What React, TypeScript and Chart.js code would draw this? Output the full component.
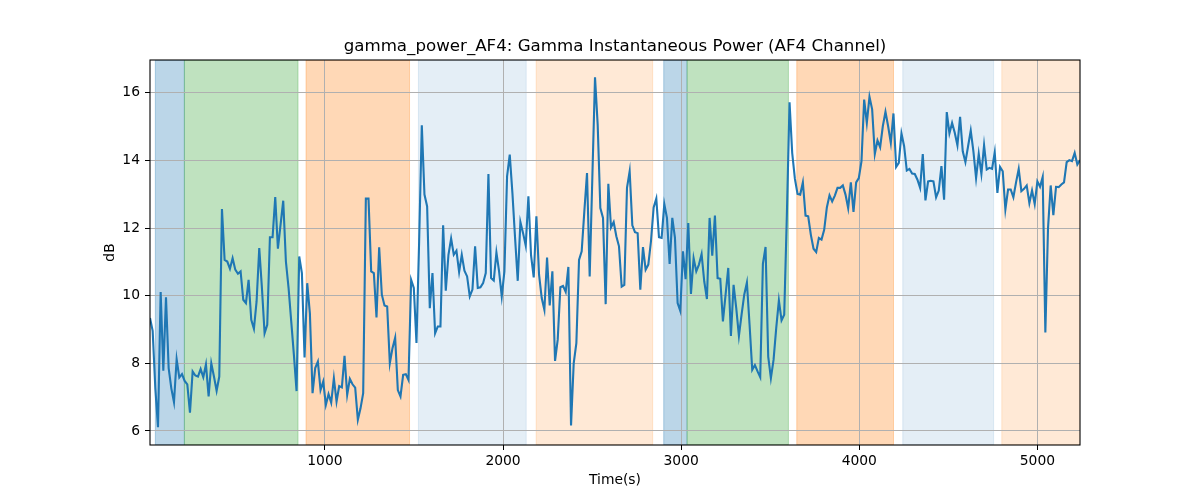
import React, { useEffect, useRef } from "react";
import { Chart, registerables } from "chart.js";

Chart.register(...registerables);

const TITLE = "gamma_power_AF4: Gamma Instantaneous Power (AF4 Channel)";
const X_LABEL = "Time(s)";
const Y_LABEL = "dB";

// sampling of the series (seconds)
const T_START = 18;
const T_STEP = 14.96;

const GAMMA_DB = [
  9.34, 8.96, 7.26, 6.11, 10.11, 7.78, 9.95, 7.86, 7.26, 6.85,
  8.12, 7.58, 7.68, 7.48, 7.38, 6.54, 7.76, 7.64, 7.61, 7.83,
  7.59, 7.97, 7.02, 8.0, 7.61, 7.19, 7.61, 12.56, 11.06, 11.01,
  10.8, 11.11, 10.77, 10.65, 10.72, 9.88, 9.78, 10.47, 9.29, 9.02,
  9.83, 11.41, 10.23, 8.89, 9.14, 11.73, 11.73, 12.92, 11.39, 12.1,
  12.81, 11.01, 10.23, 9.24, 8.25, 7.18, 11.16, 10.67, 8.17, 10.37,
  9.48, 7.12, 7.86, 8.05, 7.21, 7.46, 6.77, 7.09, 6.84, 7.56,
  6.87, 7.33, 7.29, 8.22, 7.07, 7.54, 7.38, 7.28, 6.33, 6.67,
  7.12, 12.87, 12.87, 10.72, 10.67, 9.36, 11.43,
  10.03, 9.71, 9.68, 8.0, 8.45, 8.76, 7.21, 7.02, 7.66, 7.68,
  7.51, 10.47, 10.23, 8.6, 11.61, 15.04, 12.99, 12.64, 9.63, 10.67,
  8.89, 9.09, 9.09, 12.08, 10.15, 11.21, 11.69, 11.21, 11.33, 10.7,
  11.21, 10.74, 10.57, 9.98, 10.18, 11.46, 10.23, 10.25, 10.37, 10.67,
  13.6, 10.52, 10.45, 11.28, 10.72, 9.98, 10.72, 13.53, 14.17, 13.04,
  11.71, 10.44, 12.18, 11.85, 11.48, 12.94, 11.19, 10.54, 12.35, 10.62,
  9.93, 9.58, 11.13, 9.71, 10.72, 8.07, 8.7, 10.25, 10.29, 10.11,
  10.85, 6.16, 8.0, 8.6, 11.06, 11.31, 12.5, 13.63, 10.57, 13.5,
  16.46, 15.06, 12.59, 12.3, 9.75, 13.31,
  12.02, 12.18, 11.76, 11.46, 10.27, 10.32, 13.19, 13.68, 12.08, 11.88,
  11.85, 10.18, 11.44, 10.77, 10.92, 11.61, 12.61, 12.87, 11.73, 11.71,
  12.71, 12.3, 10.94, 12.3, 11.71, 9.78, 9.55, 11.31, 10.49, 12.15,
  10.05, 11.11, 10.72, 10.92, 11.23, 10.42, 9.9, 12.3, 11.18, 12.37,
  10.52, 10.5, 9.24, 10.03, 10.82, 8.81, 10.32, 9.63, 8.81, 9.44,
  10.03, 10.39, 9.14, 7.81, 7.95, 7.76, 7.59, 10.94, 11.44, 8.2,
  7.56, 8.1, 9.04, 9.86, 9.27, 9.44, 12.4, 15.72, 14.22, 13.46,
  13.01, 12.99, 13.35, 12.37, 12.35, 11.8, 11.39, 11.29, 11.71, 11.66,
  11.95, 12.61, 12.97, 12.79, 12.96, 13.19,
  13.19, 13.26, 12.99, 12.59, 13.35, 12.48, 13.35, 13.48, 13.98, 15.8,
  15.11, 15.88, 15.51, 14.19, 14.59, 14.39, 15.01, 15.44, 15.01, 14.52,
  15.39, 13.81, 13.93, 14.8, 14.42, 13.7, 13.75, 13.61, 13.6, 13.43,
  13.19, 14.19, 12.82, 13.38, 13.4, 13.38, 12.91, 13.11, 13.83, 12.84,
  15.43, 14.8, 15.11, 14.82, 14.45, 15.29, 14.27, 13.95, 14.42, 14.88,
  14.27, 13.48, 14.19, 13.6, 14.45, 13.73, 13.78, 13.75, 14.24, 13.04,
  13.81, 13.68, 12.55, 13.14, 13.14, 12.91, 13.35, 13.75, 13.09, 13.16,
  13.26, 12.74, 13.11, 12.71, 13.38, 13.22, 13.51, 8.91, 12.0, 13.26,
  12.38, 13.22, 13.21, 13.29, 13.35, 13.95, 14.01, 13.98, 14.22, 13.88,
  14.01,
];

const X_TICKS = [1000, 2000, 3000, 4000, 5000];
const Y_TICKS = [6, 8, 10, 12, 14, 16];

// shaded epochs (seconds)
const SPAN_START = [48, 211, 894, 1525, 2186, 2902, 3033, 3649, 4244, 4800];
const SPAN_END = [211, 849, 1475, 2130, 2840, 3033, 3602, 4192, 4754, 5400];
const SPAN_KIND = ["blue", "green", "orange", "lightblue", "lightorange", "blue", "green", "orange", "lightblue", "lightorange"];

const SPAN_COLORS: Record<string, string> = {
  blue: "rgba(31,119,180,0.3)",
  green: "rgba(44,160,44,0.3)",
  orange: "rgba(255,127,14,0.3)",
  lightblue: "rgba(31,119,180,0.12)",
  lightorange: "rgba(255,127,14,0.17)",
};

const FONT = "'DejaVu Sans', 'Liberation Sans', sans-serif";

const spansPlugin = {
  id: "spans",
  beforeDraw(chart: any) {
    const { ctx, chartArea } = chart;
    const x = chart.scales.x;
    ctx.save();
    ctx.beginPath();
    ctx.rect(chartArea.left, chartArea.top, chartArea.right - chartArea.left, chartArea.bottom - chartArea.top);
    ctx.clip();
    for (let i = 0; i < SPAN_START.length; i++) {
      const x0 = x.getPixelForValue(SPAN_START[i]);
      const x1 = x.getPixelForValue(SPAN_END[i]);
      const c = SPAN_COLORS[SPAN_KIND[i]];
      ctx.fillStyle = c;
      ctx.fillRect(x0, chartArea.top, x1 - x0, chartArea.bottom - chartArea.top);
      ctx.strokeStyle = c;
      ctx.lineWidth = 1;
      ctx.strokeRect(x0, chartArea.top, x1 - x0, chartArea.bottom - chartArea.top);
    }
    ctx.restore();
  },
  afterDraw(chart: any) {
    const { ctx, chartArea } = chart;
    ctx.save();
    ctx.strokeStyle = "#000000";
    ctx.lineWidth = 1.1;
    ctx.strokeRect(chartArea.left, chartArea.top, chartArea.right - chartArea.left, chartArea.bottom - chartArea.top);
    ctx.restore();
  },
};

export default function App() {
  const canvasRef = useRef<HTMLCanvasElement | null>(null);

  useEffect(() => {
    document.body.style.margin = "0";
    const canvas = canvasRef.current;
    if (!canvas) return;
    const points = GAMMA_DB.map((v, i) => ({ x: T_START + i * T_STEP, y: v }));
    const xMin = T_START;
    const xMax = T_START + (GAMMA_DB.length - 1) * T_STEP;

    const chart = new Chart(canvas, {
      type: "line",
      data: {
        datasets: [
          {
            data: points,
            borderColor: "#1f77b4",
            borderWidth: 2.1,
            pointRadius: 0,
            tension: 0,
            fill: false,
          },
        ],
      },
      plugins: [spansPlugin],
      options: {
        animation: false,
        responsive: false,
        devicePixelRatio: 1,
        layout: { padding: { left: 30, right: 0, top: 0, bottom: 0 } },
        plugins: {
          legend: { display: false },
          tooltip: { enabled: false },
          title: {
            display: true,
            text: TITLE,
            color: "#000000",
            font: { family: FONT, size: 16.67, weight: "normal" },
            padding: { top: 36.9, bottom: 3.1 },
          },
        },
        scales: {
          x: {
            type: "linear",
            min: xMin,
            max: xMax,
            afterBuildTicks: (s: any) => {
              s.ticks = X_TICKS.map((v) => ({ value: v }));
            },
            afterFit: (s: any) => {
              s.height = 55;
            },
            ticks: {
              color: "#000000",
              font: { family: FONT, size: 13.89 },
              padding: 3,
              maxRotation: 0,
              autoSkip: false,
              callback: (v: any) => String(v),
            },
            grid: {
              color: "#b0b0b0",
              lineWidth: 1,
              tickColor: "#000000",
              tickLength: 5,
              drawTicks: true,
            },
            border: { display: false },
            title: {
              display: true,
              text: X_LABEL,
              color: "#000000",
              font: { family: FONT, size: 13.89 },
              padding: { top: 0, bottom: 11.5 },
            },
          },
          y: {
            type: "linear",
            position: "left",
            min: 5.585,
            max: 16.97,
            afterBuildTicks: (s: any) => {
              s.ticks = Y_TICKS.map((v) => ({ value: v }));
            },
            afterFit: (s: any) => {
              s.width = 120;
            },
            ticks: {
              color: "#000000",
              font: { family: FONT, size: 13.89 },
              padding: 5,
              autoSkip: false,
              callback: (v: any) => String(v),
            },
            grid: {
              color: "#b0b0b0",
              lineWidth: 1,
              tickColor: "#000000",
              tickLength: 5,
              drawTicks: true,
            },
            border: { display: false },
            title: {
              display: true,
              text: Y_LABEL,
              color: "#000000",
              font: { family: FONT, size: 13.89 },
              padding: { top: 71.9, bottom: 0 },
            },
          },
          yRight: {
            type: "linear",
            position: "right",
            min: 5.585,
            max: 16.97,
            afterFit: (s: any) => {
              s.width = 120;
            },
            ticks: { display: false },
            grid: { display: false },
            border: { display: false },
          },
        },
      },
    });
    return () => chart.destroy();
  }, []);

  return (
    <div style={{ width: 1200, height: 500, background: "#ffffff" }}>
      <canvas ref={canvasRef} width={1200} height={500} style={{ display: "block" }} />
    </div>
  );
}
